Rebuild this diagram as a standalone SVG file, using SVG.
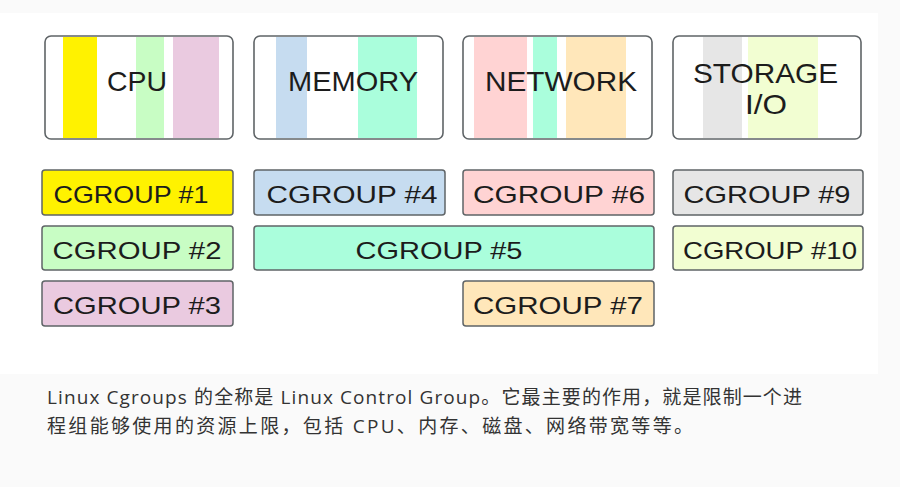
<svg xmlns="http://www.w3.org/2000/svg" width="900" height="487" viewBox="0 0 900 487">
<style>
.frame{fill:none;stroke:#5f6467;stroke-width:1.6}
.cg{stroke:#5f6467;stroke-width:1.5}
.lbl{font-family:"Liberation Sans","DejaVu Sans",sans-serif;font-size:28px;fill:#1c1c1c}
.cgl{font-family:"Liberation Sans","DejaVu Sans",sans-serif;font-size:24px;fill:#1c1c1c;text-anchor:middle}
.note{font-family:"Open Sans","Noto Sans CJK SC",sans-serif;font-size:19px;fill:#333333}
</style>
<rect x="0" y="0" width="900" height="487" fill="#fafafa"/>
<rect x="0" y="13" width="878" height="361" fill="#ffffff"/>

<g id="cpu">
<rect x="45" y="36" width="188" height="103" rx="6" fill="#ffffff"/>
<rect x="63" y="37" width="34" height="101" fill="#fff200"/>
<rect x="136" y="37" width="28" height="101" fill="#c8fdc4"/>
<rect x="173" y="37" width="46" height="101" fill="#eacae0"/>
<rect class="frame" x="45" y="36" width="188" height="103" rx="6"/>
<text class="lbl" x="107" y="91" textLength="60" lengthAdjust="spacingAndGlyphs">CPU</text>
</g>
<g id="memory">
<rect x="254" y="36" width="189" height="103" rx="6" fill="#ffffff"/>
<rect x="276" y="37" width="31" height="101" fill="#c6dcf0"/>
<rect x="358" y="37" width="59" height="101" fill="#aafedc"/>
<rect class="frame" x="254" y="36" width="189" height="103" rx="6"/>
<text class="lbl" x="288" y="91" textLength="130" lengthAdjust="spacingAndGlyphs">MEMORY</text>
</g>
<g id="network">
<rect x="463" y="36" width="189" height="103" rx="6" fill="#ffffff"/>
<rect x="474" y="37" width="53" height="101" fill="#ffd3d3"/>
<rect x="533" y="37" width="24" height="101" fill="#aafedc"/>
<rect x="566" y="37" width="60" height="101" fill="#ffe7ba"/>
<rect class="frame" x="463" y="36" width="189" height="103" rx="6"/>
<text class="lbl" x="485" y="91" textLength="152" lengthAdjust="spacingAndGlyphs">NETWORK</text>
</g>
<g id="storage">
<rect x="673" y="36" width="188" height="103" rx="6" fill="#ffffff"/>
<rect x="703" y="37" width="39" height="101" fill="#e6e6e6"/>
<rect x="748" y="37" width="70" height="101" fill="#f2fed2"/>
<rect class="frame" x="673" y="36" width="188" height="103" rx="6"/>
<text class="lbl" x="693" y="83" textLength="145" lengthAdjust="spacingAndGlyphs">STORAGE</text>
<text class="lbl" x="745" y="114" textLength="42" lengthAdjust="spacingAndGlyphs">I/O</text>
</g>

<g id="cgroup1"><rect class="cg" x="42" y="170" width="191" height="45" rx="3" fill="#fff200"/><text class="cgl" x="131" y="203" textLength="155" lengthAdjust="spacingAndGlyphs">CGROUP #1</text></g>
<g id="cgroup2"><rect class="cg" x="42" y="226" width="191" height="44" rx="3" fill="#c8fdc4"/><text class="cgl" x="137" y="259" textLength="169" lengthAdjust="spacingAndGlyphs">CGROUP #2</text></g>
<g id="cgroup3"><rect class="cg" x="42" y="281" width="191" height="45" rx="3" fill="#eacae0"/><text class="cgl" x="137" y="314" textLength="168" lengthAdjust="spacingAndGlyphs">CGROUP #3</text></g>
<g id="cgroup4"><rect class="cg" x="254" y="170" width="191" height="45" rx="3" fill="#c6dcf0"/><text class="cgl" x="352" y="203" textLength="171" lengthAdjust="spacingAndGlyphs">CGROUP #4</text></g>
<g id="cgroup5"><rect class="cg" x="254" y="226" width="400" height="44" rx="3" fill="#aafedc"/><text class="cgl" x="439" y="259" textLength="167" lengthAdjust="spacingAndGlyphs">CGROUP #5</text></g>
<g id="cgroup6"><rect class="cg" x="463" y="170" width="191" height="45" rx="3" fill="#ffd3d3"/><text class="cgl" x="559" y="203" textLength="172" lengthAdjust="spacingAndGlyphs">CGROUP #6</text></g>
<g id="cgroup7"><rect class="cg" x="463" y="281" width="191" height="45" rx="3" fill="#ffe7ba"/><text class="cgl" x="558" y="314" textLength="170" lengthAdjust="spacingAndGlyphs">CGROUP #7</text></g>
<g id="cgroup9"><rect class="cg" x="673" y="170" width="190" height="45" rx="3" fill="#e6e6e6"/><text class="cgl" x="767" y="203" textLength="167" lengthAdjust="spacingAndGlyphs">CGROUP #9</text></g>
<g id="cgroup10"><rect class="cg" x="673" y="226" width="190" height="44" rx="3" fill="#f2fed2"/><text class="cgl" x="770" y="259" textLength="174" lengthAdjust="spacingAndGlyphs">CGROUP #10</text></g>

<g id="caption">
<text class="note" x="47" y="404" textLength="755" lengthAdjust="spacing">Linux Cgroups 的全称是 Linux Control Group。它最主要的作用，就是限制一个进</text>
<text class="note" x="47" y="433" textLength="646" lengthAdjust="spacing">程组能够使用的资源上限，包括 CPU、内存、磁盘、网络带宽等等。</text>
</g>
</svg>
